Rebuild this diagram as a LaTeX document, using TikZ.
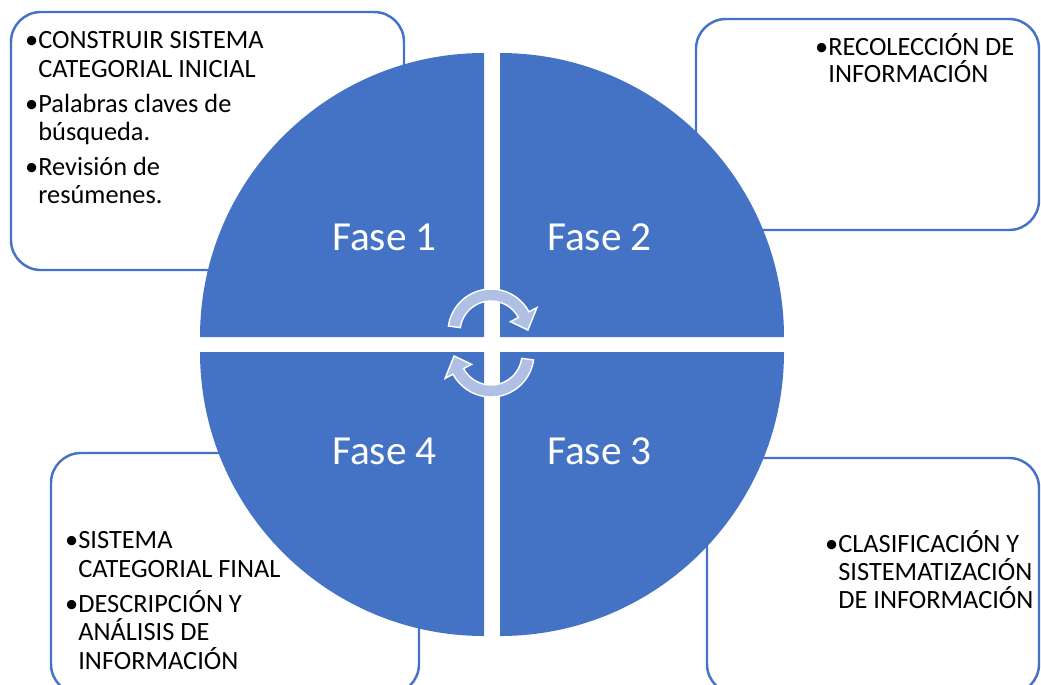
\documentclass[tikz,border=0pt]{standalone}
\usepackage{fontspec}
\setmainfont{Carlito}
\definecolor{azulfase}{HTML}{4472C4}
\definecolor{flecha}{HTML}{B0C0E4}

\begin{document}
\begin{tikzpicture}[x=0.02cm,y=-0.02cm,
  caja/.style={draw=azulfase,line width=1.4pt,fill=white,rounded corners=17pt},
  cuarto/.style={fill=azulfase},
  rotulo/.style={text=white,anchor=base,inner sep=0pt,font=\fontsize{23.5}{28}\selectfont},
  linea/.style={anchor=base west,inner sep=0pt,font=\fontsize{15}{18}\selectfont},
  cyclearrow/.pic={
    \filldraw[fill=flecha,draw=white,line width=0.8pt]
      (-172:43) arc[start angle=-172,end angle=-28,radius=43]
      -- (-28:52) -- (-3:37) -- (-28:22) -- (-28:31)
      arc[start angle=-28,end angle=-172,radius=31] -- cycle;
  }]
\useasboundingbox (0,0) rectangle (1041,684);
% cajas de texto
\draw[caja] (11,12) rectangle (404,270);
\draw[caja] (696,19) rectangle (1039,230);
\draw[caja] (707,458) rectangle (1039,694);
\draw[caja] (51,453) rectangle (419,694);
% circulo en cuatro partes
\fill[cuarto] (484,337) -- ++(-284,0) arc[start angle=180,end angle=270,radius=284] -- cycle;
\fill[cuarto] (500,337) -- ++(0,-284) arc[start angle=270,end angle=360,radius=284] -- cycle;
\fill[cuarto] (500,352) -- ++(284,0) arc[start angle=0,end angle=90,radius=284] -- cycle;
\fill[cuarto] (484,352) -- ++(0,284) arc[start angle=90,end angle=180,radius=284] -- cycle;
\node[rotulo] (f1) at (384.5,250) {Fase 1};
\node[rotulo] (f2) at (599.5,250) {Fase 2};
\node[rotulo] (f3) at (599.5,464) {Fase 3};
\node[rotulo] (f4) at (384.5,464) {Fase 4};
% flechas del ciclo
\pic at (491,332) {cyclearrow};
\pic[rotate=180] at (491,354) {cyclearrow};
% fase 1
\node[linea] (t1a) at (38,48) {\llap{\textbullet}CONSTRUIR SISTEMA};
\node[linea] (t1b) at (38,77) {CATEGORIAL INICIAL};
\node[linea] (t1c) at (38,112) {\llap{\textbullet}Palabras claves de};
\node[linea] (t1d) at (38,140) {búsqueda.};
\node[linea] (t1e) at (38,175) {\llap{\textbullet}Revisión de};
\node[linea] (t1f) at (38,203) {resúmenes.};
% fase 2
\node[linea] (t2a) at (828,55) {\llap{\textbullet}RECOLECCIÓN DE};
\node[linea] (t2b) at (828,82) {INFORMACIÓN};
% fase 3
\node[linea] (t3a) at (838,552) {\llap{\textbullet}CLASIFICACIÓN Y};
\node[linea] (t3b) at (838,580) {SISTEMATIZACIÓN};
\node[linea] (t3c) at (838,608) {DE INFORMACIÓN};
% fase 4
\node[linea] (t4a) at (78,548) {\llap{\textbullet}SISTEMA};
\node[linea] (t4b) at (78,577) {CATEGORIAL FINAL};
\node[linea] (t4c) at (78,612) {\llap{\textbullet}DESCRIPCIÓN Y};
\node[linea] (t4d) at (78,640) {ANÁLISIS DE};
\node[linea] (t4e) at (78,669) {INFORMACIÓN};
\end{tikzpicture}
\end{document}
